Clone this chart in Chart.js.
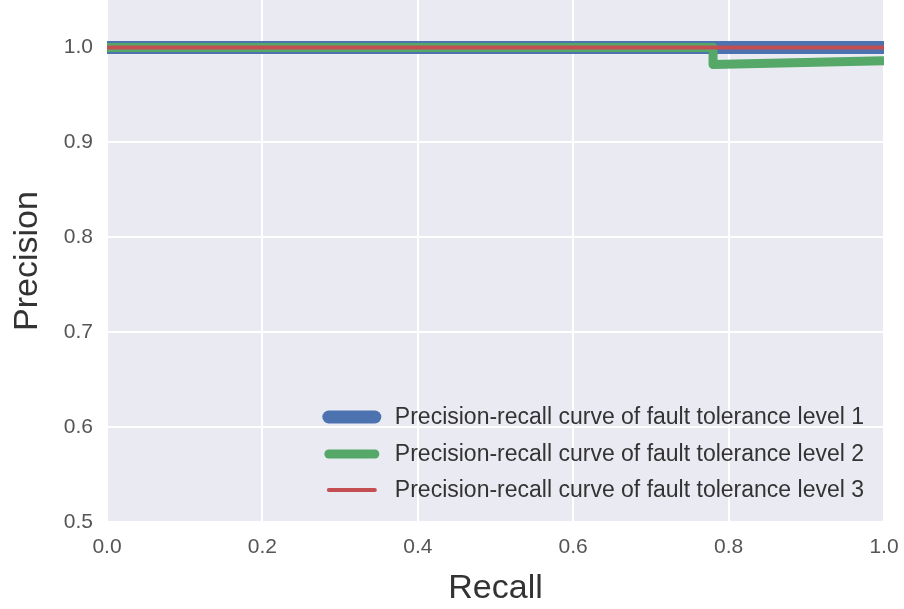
<!DOCTYPE html>
<html>
<head>
<meta charset="utf-8">
<script src="https://cdn.jsdelivr.net/npm/chart.js@4/dist/chart.umd.min.js"></script>
<style>
  body { margin: 0; background: #fff; }
  #wrap { width: 904px; height: 609px; }
</style>
</head>
<body>
<div id="wrap"><canvas id="prChart" width="904" height="609"></canvas></div>
<script>
// data
const seriesNames = [
  "Precision-recall curve of fault tolerance level 1",
  "Precision-recall curve of fault tolerance level 2",
  "Precision-recall curve of fault tolerance level 3"
];
const recall1 = [0.0, 1.0];
const precision1 = [1.0, 1.0];
const recall2 = [0.0, 0.78, 0.78, 1.0];
const precision2 = [1.0, 1.0, 0.982, 0.986];
const recall3 = [0.0, 1.0];
const precision3 = [1.0, 1.0];
const xTicks = [0.0, 0.2, 0.4, 0.6, 0.8, 1.0];
const yTicks = [0.5, 0.6, 0.7, 0.8, 0.9, 1.0];

const colors = ["#4C72B0", "#55A868", "#C44E52"];
const widths = [13, 9, 4];

function toPoints(xs, ys) {
  return xs.map((x, i) => ({ x: x, y: ys[i] }));
}

const FONT = "'Liberation Sans', Arial, sans-serif";

// 🔥 legend drawn inside the plot, bottom right
const innerLegend = {
  id: "innerLegend",
  afterDatasetsDraw(chart) {
    const ctx = chart.ctx;
    const area = chart.chartArea;
    ctx.save();
    ctx.font = "23px " + FONT;
    ctx.textBaseline = "middle";
    ctx.fillStyle = "#333";
    const maxW = Math.max(...seriesNames.map(s => ctx.measureText(s).width));
    const textX = area.right - 20 - maxW;
    const rowsY = [area.bottom - 105, area.bottom - 68, area.bottom - 32];
    chart.data.datasets.forEach((ds, i) => {
      const y = rowsY[i];
      ctx.strokeStyle = ds.borderColor;
      ctx.lineWidth = ds.borderWidth;
      ctx.lineCap = "round";
      ctx.beginPath();
      ctx.moveTo(textX - 66, y);
      ctx.lineTo(textX - 20, y);
      ctx.stroke();
      ctx.fillText(ds.label, textX, y + 1);
    });
    ctx.restore();
  }
};

// 🔥 grey background of the plot area
const plotBg = {
  id: "plotBg",
  beforeDraw(chart) {
    const { ctx, chartArea } = chart;
    ctx.save();
    ctx.fillStyle = "#EAEAF2";
    ctx.fillRect(chartArea.left, chartArea.top, chartArea.right - chartArea.left, chartArea.bottom - chartArea.top);
    ctx.restore();
  }
};

function noPad(axis) {
  axis.paddingTop = 0;
  axis.paddingBottom = 0;
  axis.paddingLeft = 0;
  axis.paddingRight = 0;
}

new Chart(document.getElementById("prChart"), {
  type: "line",
  data: {
    datasets: [
      { label: seriesNames[0], data: toPoints(recall1, precision1), order: 3 },
      { label: seriesNames[1], data: toPoints(recall2, precision2), order: 2 },
      { label: seriesNames[2], data: toPoints(recall3, precision3), order: 1 }
    ].map((ds, i) => Object.assign(ds, {
      borderColor: colors[i],
      backgroundColor: colors[i],
      borderWidth: widths[i],
      pointRadius: 0,
      tension: 0,
      fill: false,
      borderJoinStyle: "round"
    }))
  },
  options: {
    responsive: false,
    animation: false,
    layout: { padding: { top: 0, right: 20, bottom: 0, left: 0 } },
    plugins: { legend: { display: false }, tooltip: { enabled: false } },
    scales: {
      x: {
        type: "linear",
        min: 0, max: 1,
        afterBuildTicks(axis) { axis.ticks = xTicks.map(v => ({ value: v })); },
        afterFit(axis) { axis.height = 87; noPad(axis); },
        grid: { color: "#ffffff", lineWidth: 2, drawTicks: false },
        border: { display: false },
        ticks: {
          padding: 13,
          color: "#555",
          maxRotation: 0,
          font: { family: FONT, size: 21 },
          callback: v => v.toFixed(1)
        },
        title: {
          display: true, text: "Recall", color: "#333",
          font: { family: FONT, size: 34 },
          padding: { top: 0, bottom: 0 }
        }
      },
      y: {
        type: "linear",
        min: 0.5, max: 1.05,
        afterBuildTicks(axis) { axis.ticks = yTicks.map(v => ({ value: v })); },
        afterFit(axis) { axis.width = 107; noPad(axis); },
        grid: { color: "#ffffff", lineWidth: 2, drawTicks: false },
        border: { display: false },
        ticks: {
          padding: 14,
          color: "#555",
          font: { family: FONT, size: 21 },
          callback: v => v.toFixed(1)
        },
        title: {
          display: true, text: "Precision", color: "#333",
          font: { family: FONT, size: 34 },
          padding: { top: 7, bottom: 0 }
        }
      }
    }
  },
  plugins: [plotBg, innerLegend]
});
</script>
</body>
</html>
